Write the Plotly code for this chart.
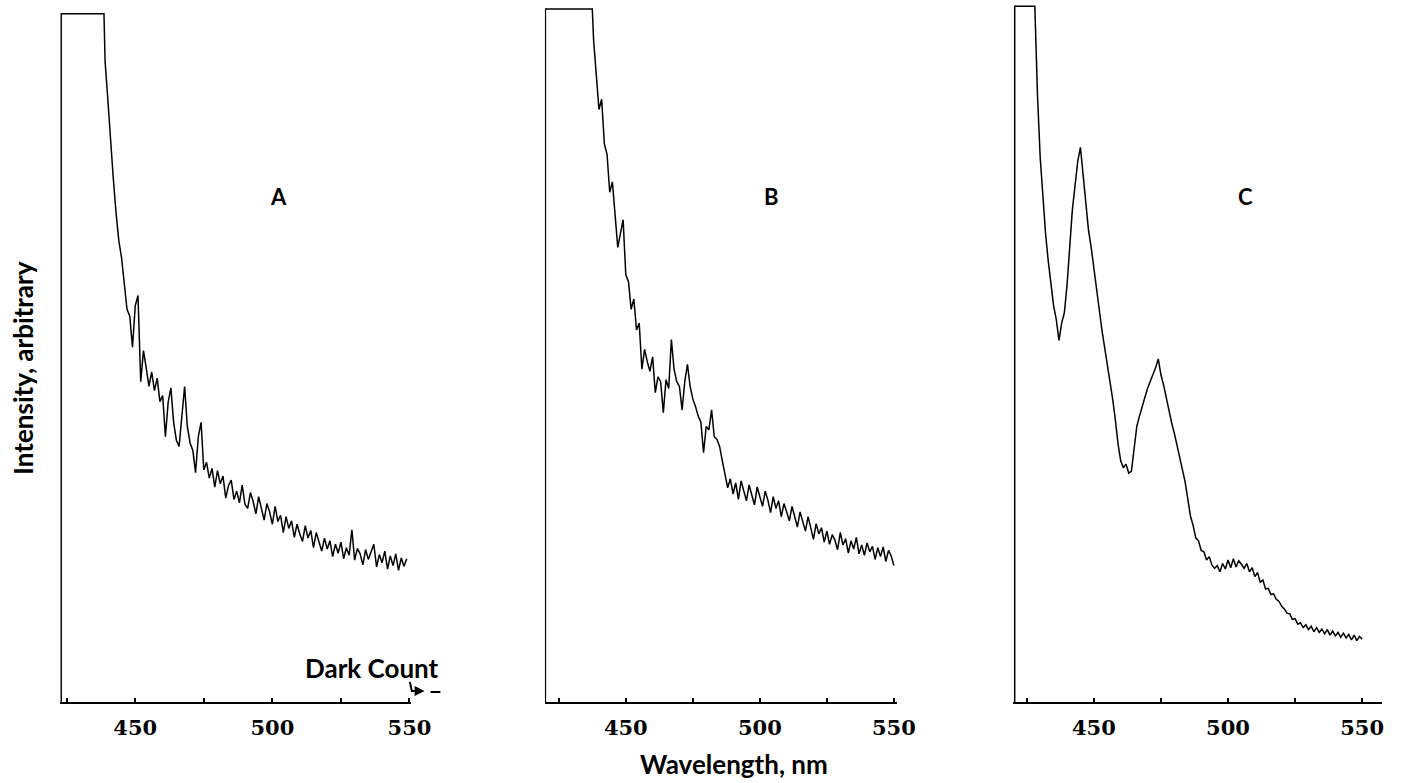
import plotly.graph_objects as go

# ---------------- data (wavelength in nm, intensity in arbitrary units) ----------------
# saturated (off-scale) head of each scan: left edge, top, end of saturation
A_head_wl = [423, 423, 438.6]
A_head_int = [0, 99.9, 99.9]
B_head_wl = [420, 420, 437.5]
B_head_int = [0, 100.6, 100.6]
C_head_wl = [420.5, 420.5, 428]
C_head_int = [0, 101, 101]

# first wavelength of the per-nm readings
A_start_nm = 439
B_start_nm = 438
C_start_nm = 429

A_int = [93, 87.5, 81, 76, 71, 67, 64.5, 61, 57, 56,
         51.5, 57.5, 59, 46.5, 51, 48.5, 45.8, 47.9, 45.2, 47,
         43.6, 44.5, 38.5, 43.5, 45.6, 40.6, 38, 37.1, 41.4, 45.8,
         40, 37.6, 36.5, 33.3, 38.5, 40.6, 33.7,
         34.8, 32.5, 33.9, 31.2, 33.6, 31.7, 32.8, 29.6, 31.4, 32.2,
         29.4, 30.6, 28.9, 31.5, 28.7, 28.1, 30.4, 29.1, 27.3, 29.8,
         27.9, 26.4, 28.8, 27.6, 25.8, 28.4, 26.2, 27.1, 24.6, 26.9,
         25.2, 26.3, 23.9, 25.8, 24.4, 23.3, 25.6, 23.8, 24.9, 22.4,
         24.6, 23.1, 21.9, 23.8, 22.2, 23.4, 21.1, 22.9, 21.6, 23.2,
         20.8, 22.4, 21.3, 25.0, 20.6, 22.3, 21.5, 19.9, 22.1, 20.7,
         21.8, 22.9, 19.6, 21.4, 20.2, 21.9, 19.3, 21.2, 19.8, 21.5,
         19.1, 20.9, 19.7, 20.8]

B_int = [96, 91, 86, 87.5, 81, 79.5, 74, 75.5, 71, 66,
         68, 70, 62, 61, 57, 58.5, 54, 55, 48.3, 51.2,
         49.4, 48, 50.1, 44.9, 47.2, 46.5, 42, 46.8, 45.5, 52.6,
         48.3, 46.5, 45.8, 42.4, 46.5, 49, 45.8, 44, 42.9, 41.5,
         40.6, 36.2, 40, 39.5, 42.4, 38.5, 38.1, 37.1, 35, 33,
         31.1, 32.4, 30.2, 31.8, 29.4, 32.1, 30.6, 29.2, 31.5, 30.1,
         28.6, 31.2, 29.9, 28.4, 30.6, 29.3, 27.5, 29.8, 28.1, 29.2,
         26.9, 28.8, 27.6, 26.3, 28.4, 26.9, 25.4, 27.6, 26.2, 24.8,
         26.9, 25.1, 23.6, 25.9, 24.4, 25.3, 23.2, 24.8, 22.9, 24.3,
         23.5, 22.1, 24.6, 22.8, 23.7, 21.6, 23.4, 22.2, 23.9, 21.5,
         22.8, 21.3, 23.1, 21.8, 22.6, 20.7, 22.4, 21.1, 22.5, 20.4,
         22.0, 21.2, 19.8]

C_int = [88, 79, 73, 68, 64, 60.5, 57.5, 55.5, 52.5, 55,
         56.5, 60.5, 66, 71.5, 75, 78.5, 80.5, 76.5, 71.4, 68.5,
         66, 63, 59.5, 56.5, 54, 51.5, 49, 47, 44, 41,
         37.5, 35, 34, 34.5, 33.2, 33.5, 37, 40, 41.5, 43,
         44.2, 45.5, 46.5, 47.3, 48.5, 49.8, 47.5, 46, 44, 42.5,
         40.5, 39, 37.2, 35.5, 33.8, 32,
         29.5, 27, 25.6, 23.8, 23.4, 22.0, 21.8, 20.6, 21.1, 19.9,
         19.4, 19.8, 18.9, 20.1, 19.3, 20.6, 19.5, 20.8, 19.6, 20.5,
         20.0, 19.4, 20.1, 18.9, 19.5, 18.2, 18.8, 17.4, 17.7, 16.4,
         16.5, 15.6, 15.7, 14.9, 14.6, 13.9, 13.5, 12.9, 12.8, 12.0,
         12.1, 11.3, 11.5, 10.8, 11.2, 10.5, 11.0, 10.2, 10.8, 10.1,
         10.6, 9.9, 10.5, 9.7, 10.3, 9.6, 10.1, 9.4, 10.0, 9.3,
         9.8, 9.0, 9.7, 8.9, 9.5, 9.1]

panel_labels = ["A", "B", "C"]
tick_vals = [425, 450, 475, 500, 525, 550]
tick_text = ["", "450", "", "500", "", "550"]
x_ranges = [[422.6, 550.5], [419.8, 551.0], [419.8, 557.5]]
y_range = [0, 101.9]

# ---------------- layout geometry ----------------
W, H = 1423, 783


def px(x):
    return x / W


def py(y):
    return 1 - y / H


x_domains = [[px(61), px(417)], [px(553), px(910)], [px(1028), px(1403)]]
y_domain = [py(702), 1.0]
label_pos = [(283, 197), (783, 197), (1264, 196)]

series = [
    (A_head_wl, A_head_int, A_start_nm, A_int),
    (B_head_wl, B_head_int, B_start_nm, B_int),
    (C_head_wl, C_head_int, C_start_nm, C_int),
]

fig = go.Figure()
for i, (hw, hi, s0, vals) in enumerate(series):
    wl = hw + [s0 + k for k in range(len(vals))]
    inten = hi + vals
    suffix = "" if i == 0 else str(i + 1)
    fig.add_trace(go.Scatter(
        x=wl, y=inten, mode="lines",
        line=dict(color="black", width=1.5),
        xaxis="x" + suffix, yaxis="y" + suffix,
        showlegend=False, hoverinfo="skip",
    ))

layout = dict(
    width=W, height=H,
    margin=dict(l=0, r=0, t=0, b=0),
    paper_bgcolor="white", plot_bgcolor="white",
    showlegend=False,
)
tickfont = dict(family="DejaVu Serif", size=21, color="black", weight="bold")
for i in range(3):
    suffix = "" if i == 0 else str(i + 1)
    layout["xaxis" + suffix] = dict(
        domain=x_domains[i], range=x_ranges[i], anchor="y" + suffix,
        showline=True, linecolor="black", linewidth=2,
        ticks="inside", ticklen=4, tickwidth=1.5, tickcolor="black",
        tickvals=tick_vals, ticktext=tick_text, tickfont=tickfont,
        ticklabelstandoff=6,
        showgrid=False, zeroline=False, fixedrange=True,
    )
    layout["yaxis" + suffix] = dict(
        domain=y_domain, range=y_range, anchor="x" + suffix,
        showline=False, showticklabels=False, ticks="",
        showgrid=False, zeroline=False, fixedrange=True,
    )
fig.update_layout(**layout)

lab_font = dict(family="Lato", size=22, color="black", weight="bold")
for lab, (lx, ly) in zip(panel_labels, label_pos):
    fig.add_annotation(x=px(lx), y=py(ly), xref="paper", yref="paper",
                       xanchor="center", yanchor="middle",
                       text=lab, showarrow=False, font=lab_font)

fig.add_annotation(x=px(23), y=py(368), xref="paper", yref="paper",
                   xanchor="center", yanchor="middle",
                   text="Intensity, arbitrary", textangle=-90, showarrow=False,
                   font=dict(family="Lato", size=26, color="black", weight="bold"))
fig.add_annotation(x=px(745), y=py(764), xref="paper", yref="paper",
                   xanchor="center", yanchor="middle",
                   text="Wavelength, nm", showarrow=False,
                   font=dict(family="Lato", size=26, color="black", weight="bold"))
fig.add_annotation(x=px(448), y=py(668), xref="paper", yref="paper",
                   xanchor="right", yanchor="middle", text="Dark Count", showarrow=False,
                   font=dict(family="Lato", size=26, color="black", weight="bold"))

# hooked arrow pointing to the dark-count level
fig.add_shape(type="path", xref="paper", yref="paper",
              path=f"M {px(416)} {py(682)} L {px(418)} {py(691)} L {px(424)} {py(691)}",
              line=dict(color="black", width=2))
fig.add_annotation(x=px(431), y=py(691), xref="paper", yref="paper",
                   ax=-9, ay=0, text="", showarrow=True,
                   arrowhead=2, arrowsize=1, arrowwidth=2, arrowcolor="black")
fig.add_shape(type="line", xref="paper", yref="paper",
              x0=px(437), y0=py(692), x1=px(447), y1=py(692),
              line=dict(color="black", width=2))

fig.write_html("out.html")
